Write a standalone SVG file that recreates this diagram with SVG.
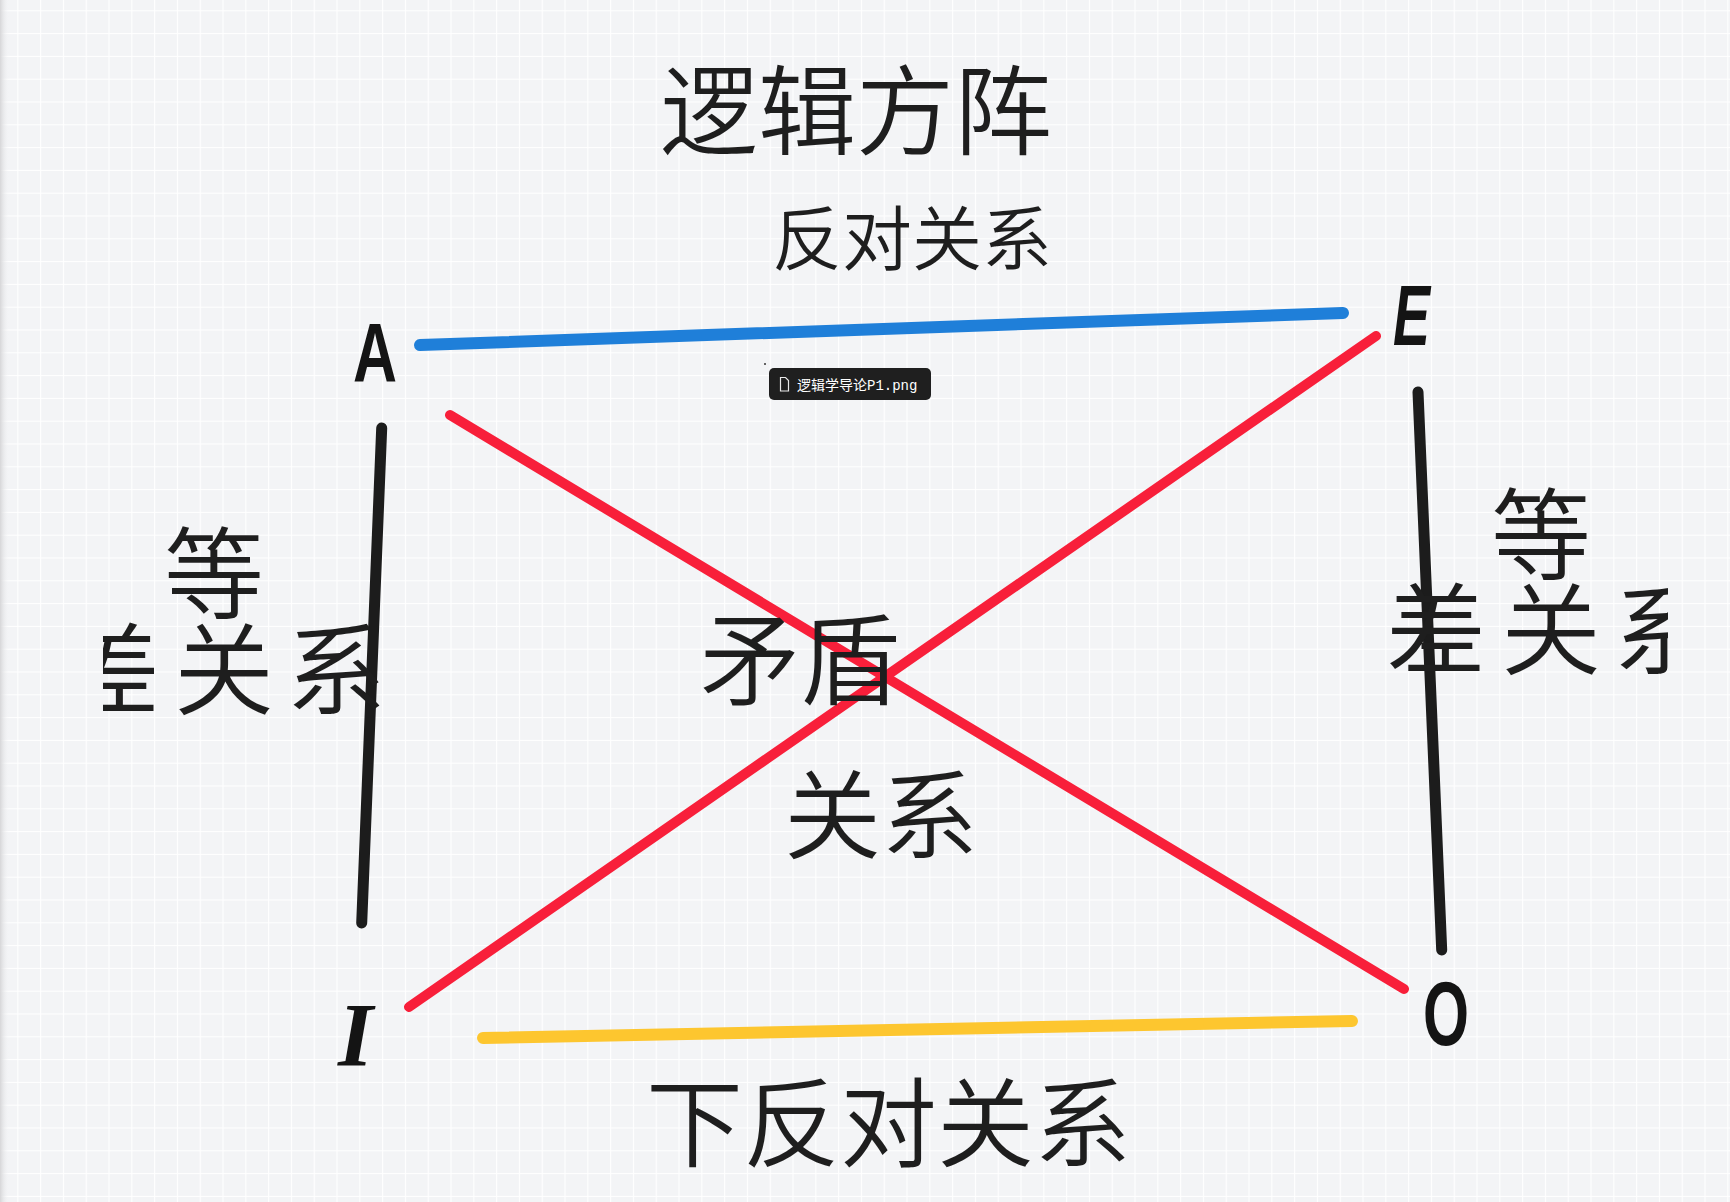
<svg xmlns="http://www.w3.org/2000/svg" width="1730" height="1202" viewBox="0 0 1730 1202">
<style>
.cjk{font-family:"Noto Sans CJK SC","Noto Sans",sans-serif;font-weight:350;fill:#1e1e1e}
.let{font-family:"Liberation Sans",sans-serif;font-weight:bold;fill:#141414}
.ln{fill:none;stroke-linecap:round}
</style>
<defs>
<pattern id="grid" x="17.3" y="10.3" width="22.8" height="22.8" patternUnits="userSpaceOnUse">
<rect width="22.8" height="22.8" fill="#f3f4f6"/>
<path d="M0 0H22.8M0 0V22.8" stroke="#ffffff" stroke-width="2.2"/>
</pattern>
<linearGradient id="shadow" x1="0" x2="1" y1="0" y2="0">
<stop offset="0" stop-color="#d6d6d8"/>
<stop offset="1" stop-color="#f3f4f6" stop-opacity="0"/>
</linearGradient>
<clipPath id="clipL"><rect x="103" y="480" width="300" height="260"/></clipPath>
<clipPath id="clipR"><rect x="1370" y="440" width="298" height="260"/></clipPath>
</defs>
<rect width="1730" height="1202" fill="url(#grid)"/>
<rect width="9" height="1202" fill="url(#shadow)"/>

<g id="title"><text class="cjk" x="660" y="147" font-size="98">逻辑方阵</text></g>
<g id="label-contrary"><text class="cjk" x="772" y="265" font-size="70">反对关系</text></g>

<g id="connectors">
<line class="ln" x1="420" y1="345" x2="1343" y2="313" stroke="#1f7fd9" stroke-width="12"/>
<line class="ln" x1="483" y1="1038" x2="1352" y2="1021" stroke="#fdc62f" stroke-width="12"/>
<line class="ln" x1="450" y1="415" x2="1404" y2="989" stroke="#f81f3a" stroke-width="10"/>
<line class="ln" x1="409" y1="1007" x2="1376" y2="336" stroke="#f81f3a" stroke-width="10"/>
<line class="ln" x1="381.7" y1="428" x2="361.7" y2="923" stroke="#1c1c1c" stroke-width="11"/>
<line class="ln" x1="1418" y1="392" x2="1441.7" y2="950" stroke="#1c1c1c" stroke-width="11"/>
</g>

<g id="node-A"><text class="let" x="353" y="382" font-size="84" textLength="44" lengthAdjust="spacingAndGlyphs">A</text></g>
<g id="node-E"><text class="let" x="1393" y="345" font-size="86" textLength="37" lengthAdjust="spacingAndGlyphs" font-style="italic">E</text></g>
<g id="node-I"><text x="338" y="1066" font-size="90" font-family="Liberation Serif,serif" font-weight="bold" font-style="italic" fill="#141414">I</text></g>
<g id="node-O"><text class="let" x="1423" y="1045" font-size="90" textLength="46" lengthAdjust="spacingAndGlyphs">O</text></g>

<g id="label-subaltern-left" clip-path="url(#clipL)">
<text class="cjk" x="164" y="611" font-size="100">等</text>
<text class="cjk" x="60" y="707" font-size="100">差</text>
<text class="cjk" x="174" y="707" font-size="100">关</text>
<text class="cjk" x="286" y="707" font-size="100">系</text>
</g>
<g id="label-subaltern-right" clip-path="url(#clipR)">
<text class="cjk" x="1491" y="572" font-size="100">等</text>
<text class="cjk" x="1386" y="667" font-size="100">差</text>
<text class="cjk" x="1501" y="667" font-size="100">关</text>
<text class="cjk" x="1613" y="667" font-size="100">系</text>
</g>

<g id="label-contradictory">
<text class="cjk" x="700" y="697" font-size="100">矛盾</text>
<text class="cjk" x="784" y="851" font-size="97">关系</text>
</g>

<g id="label-subcontrary"><text class="cjk" x="646" y="1159" font-size="97">下反对关系</text></g>

<g id="tooltip">
<circle cx="765" cy="364" r="1" fill="#333"/>
<rect x="769" y="368" width="162" height="32" rx="5" fill="#1f1f1f"/>
<path d="M780.5 377.5h5l3 3v10.5h-8z" fill="none" stroke="#e8e8e8" stroke-width="1.2"/>
<text x="797" y="389.5" font-size="14" font-family="'Liberation Mono','Noto Sans CJK SC',monospace" fill="#ffffff">逻辑学导论P1.png</text>
</g>
</svg>
